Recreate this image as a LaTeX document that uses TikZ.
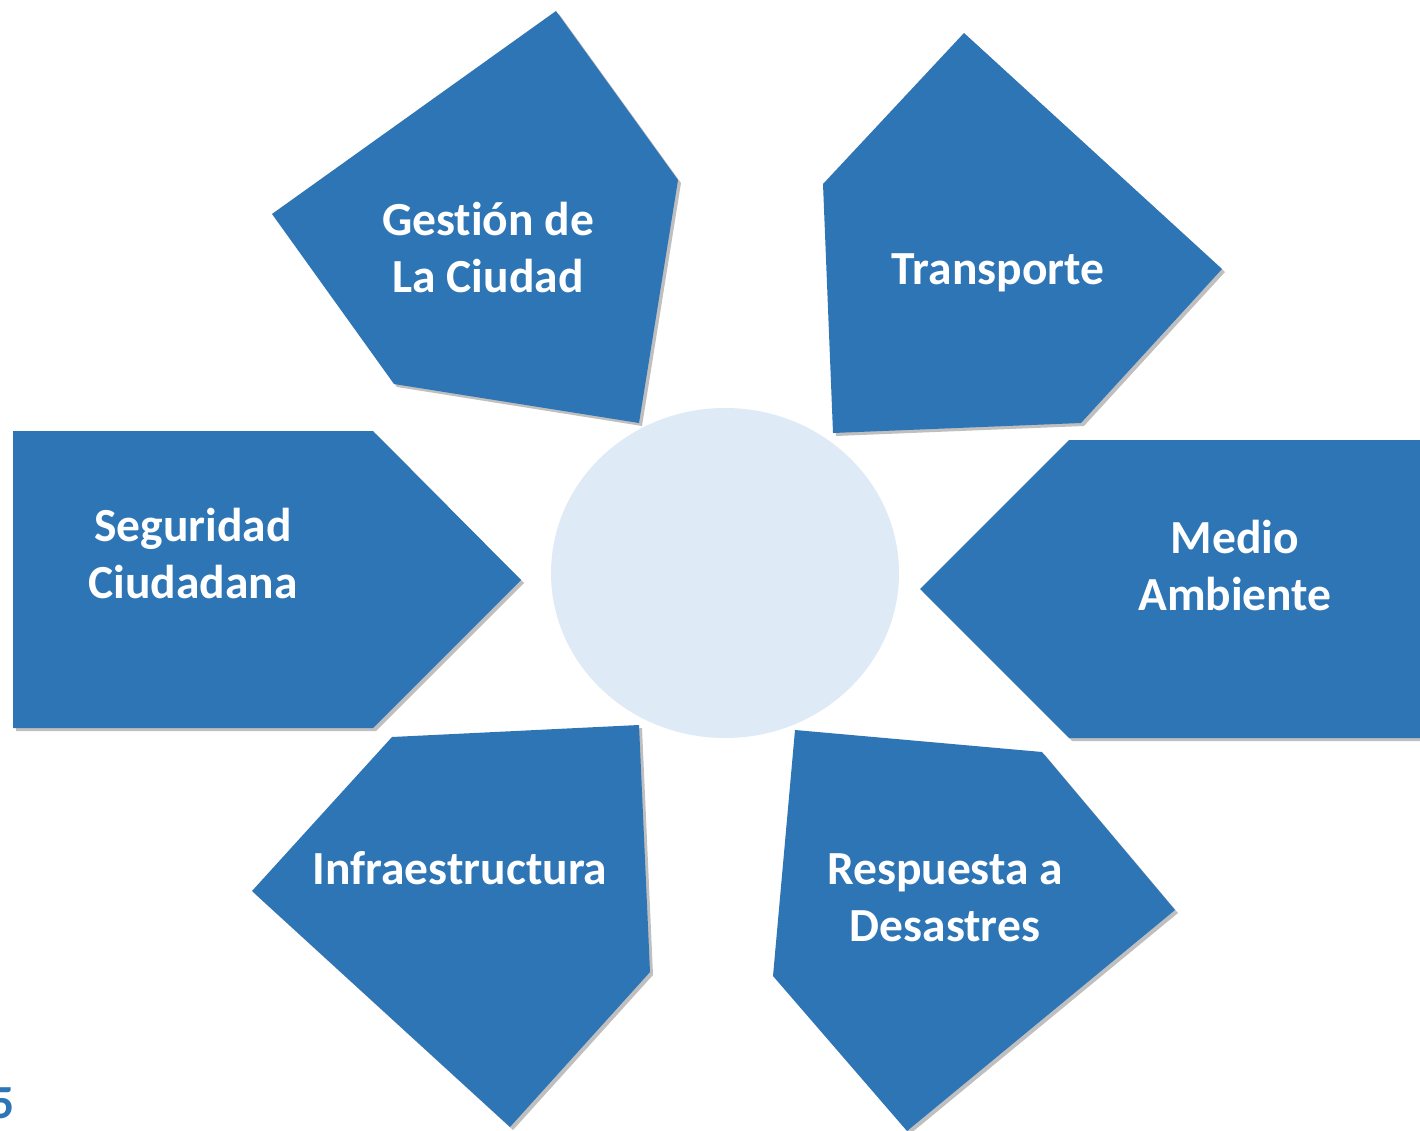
\documentclass[tikz,border=0pt]{standalone}
\usepackage{fontspec}
\setmainfont{Carlito}[Ligatures=NoCommon]
\usepackage{tikz}
\usetikzlibrary{shadows,shapes.geometric}
\definecolor{petalblue}{RGB}{46,117,182}
\definecolor{hubblue}{RGB}{222,235,247}
\tikzset{
  petal/.style={ fill=petalblue, drop shadow={shadow xshift=3pt, shadow yshift=-3pt, fill=black, opacity=0.25} }
}
\tikzset{
  petaltext/.style={ text=white, font=\bfseries\fontsize{47.5}{57}\selectfont, align=center, inner sep=0pt }
}
\tikzset{
  hub/.style={ ellipse, fill=hubblue, inner sep=0pt, minimum width=348pt, minimum height=330pt }
}

\begin{document}
\begin{tikzpicture}[x=1pt, y=-1pt]
      \clip (0,0) rectangle (1420,1131);
      \fill[white] (0,0) rectangle (1420,1131);

      \node[hub] (hub) at (725,573) {};

      % petals round the hub
      \fill[petal] (556,11) -- (678,180) -- (639,423) -- (394,384) -- (272,214) -- cycle;
      \fill[petal] (964,33) -- (1222,269) -- (1081,423) -- (833,433) -- (823,184) -- cycle;
      \fill[petal] (13,431) -- (373,431) -- (521,580) -- (373,728) -- (13,728) -- cycle;
      \fill[petal] (1069,440) -- (1440,440) -- (1440,738) -- (1069,738) -- (920,589) -- cycle;
      \fill[petal] (392,737) -- (639,725) -- (650,972) -- (510,1127) -- (252,891) -- cycle;
      \fill[petal] (795,730) -- (1042,752) -- (1175,910) -- (907,1131) -- (773,976) -- cycle;

      \node[petaltext] (gestion) at (488,248) {Gest\kern0pt ión de\\La Ciudad};
      \node[petaltext] (transporte) at (998,273) {Transporte};
      \node[petaltext] (seguridad) at (193,554) {Seguridad\\Ciudadana};
      \node[petaltext] (medio) at (1235,566) {Medio\\Ambiente};
      \node[petaltext] (infra) at (460,868) {Infraestructura};
      \node[petaltext] (respuesta) at (945,898) {Respuesta a\\Desastres};

      \node[text=petalblue, font=\bfseries\fontsize{47.5}{57}\selectfont, anchor=base east, inner sep=0pt] (pagenum) at (15,1118) {5};
\end{tikzpicture}
\end{document}
